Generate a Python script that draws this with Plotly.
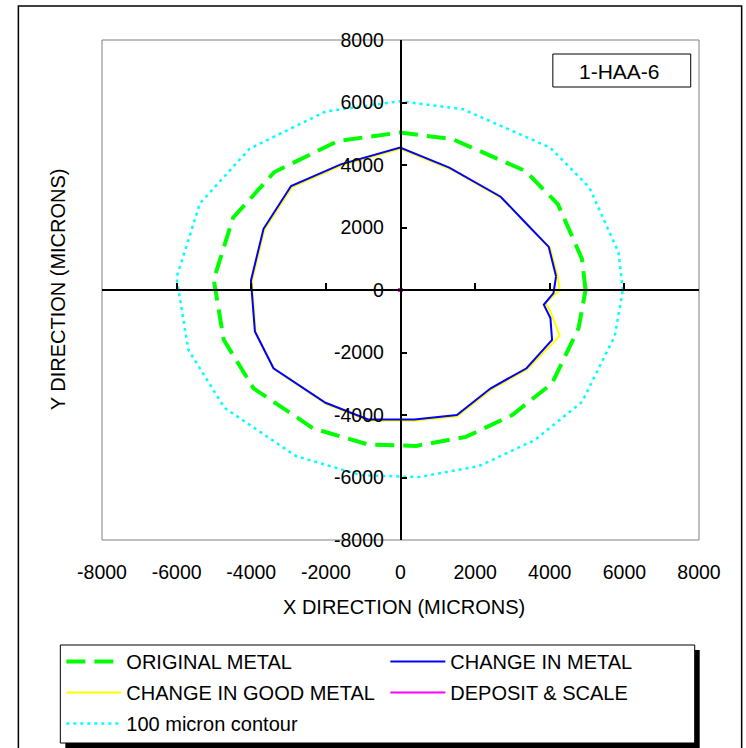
import plotly.graph_objects as go

# ---------------- data (microns) ----------------
tick_vals = [-8000, -6000, -4000, -2000, 0, 2000, 4000, 6000, 8000]
tick_labels = ["-8000", "-6000", "-4000", "-2000", "0", "2000", "4000", "6000", "8000"]

orig_x = [4960, 4862, 4222, 3351, 1396, -10, -1671, -3379, -4488, -5005, -4738, -3938,
          -2338, -871, 418, 1751, 2995, 4062, 4773, 4960]
orig_y = [0, 1000, 2738, 3807, 4825, 5040, 4771, 3775, 2311, 330, -1595, -3146,
          -4430, -4944, -4988, -4700, -4003, -2986, -1221, 0]

metal_x = [4169, 3973, 3395, 2684, 1307, -10, -1600, -2933, -3671, -4008, -3902, -3404,
           -2009, -871, 373, 1511, 2418, 3378, 4062, 4018, 3840, 4100, 4169]
metal_y = [437, 1380, 2096, 2985, 3916, 4560, 4020, 3326, 1958, 299, -1329, -2504,
           -3608, -4141, -4141, -4003, -3146, -2504, -1595, -899, -472, -100, 437]

good_x = [4222, 4010, 3420, 2700, 1320, 0, -1590, -2910, -3650, -3985, -3880, -3390,
          -2000, -860, 380, 1520, 2430, 3395, 4267, 4018, 3884, 4267, 4222]
good_y = [385, 1340, 2060, 2950, 3880, 4520, 3985, 3290, 1930, 270, -1350, -2530,
          -3640, -4175, -4180, -4040, -3180, -2536, -1467, -686, -417, 0, 385]

dep_x = [0, 0, 0, 0]
dep_y = [0, 0, 0, 0]

contour_x = [5960, 5842, 5061, 4011, 1674, -12, -2002, -4046, -5377, -6003, -5686, -4719,
             -2805, -1045, 502, 2100, 3594, 4868, 5742, 5960]
contour_y = [0, 1202, 3282, 4557, 5786, 6040, 5715, 4520, 2769, 396, -1914, -3770,
             -5314, -5929, -5985, -5637, -4804, -3578, -1469, 0]

# ---------------- geometry helpers (pixels -> paper) ----------------
W, H = 746, 748
PL, PR, PT, PB = 101.7, 699.3, 40.0, 540.0


def px(x):
    return (x - PL) / (PR - PL)


def py(y):
    return (PB - y) / (PB - PT)


FONT = "Liberation Sans, Arial, sans-serif"
FS_TICK = 19.5
FS = 20

fig = go.Figure()
fig.add_trace(go.Scatter(x=contour_x, y=contour_y, mode="lines", name="100 micron contour",
                         line=dict(color="#00FFFF", width=2.5, dash="3px,4px"),
                         legend="legend3", hoverinfo="skip"))
fig.add_trace(go.Scatter(x=orig_x, y=orig_y, mode="lines", name="ORIGINAL METAL",
                         line=dict(color="#00FF00", width=4, dash="19px,9px"),
                         legend="legend", legendrank=1, hoverinfo="skip"))
fig.add_trace(go.Scatter(x=good_x, y=good_y, mode="lines", name="CHANGE IN GOOD METAL",
                         line=dict(color="#FFFF00", width=2), legend="legend2", legendrank=1,
                         hoverinfo="skip"))
fig.add_trace(go.Scatter(x=metal_x, y=metal_y, mode="lines", name="CHANGE IN METAL",
                         line=dict(color="#0000FF", width=2), legend="legend", legendrank=2,
                         hoverinfo="skip"))
fig.add_trace(go.Scatter(x=dep_x, y=dep_y, mode="lines", name="DEPOSIT & SCALE",
                         line=dict(color="#FF00FF", width=2), legend="legend2", legendrank=2,
                         hoverinfo="skip"))
fig.add_trace(go.Scatter(x=dep_x, y=dep_y, mode="markers", showlegend=False,
                         marker=dict(size=4, symbol="square", color="#FF00FF"),
                         hoverinfo="skip"))
# carrier trace for the bottom label axis
fig.add_trace(go.Scatter(x=[tick_vals[0], tick_vals[-1]], y=[0, 0], xaxis="x2", mode="markers",
                         marker=dict(opacity=0), showlegend=False, hoverinfo="skip"))

shapes = [
    dict(type="rect", xref="paper", yref="paper", x0=px(18), x1=px(742), y0=py(760), y1=py(6),
         line=dict(color="black", width=1.5), layer="below"),
    dict(type="rect", xref="paper", yref="paper", x0=0, x1=1, y0=0, y1=1,
         line=dict(color="#808080", width=1), layer="below"),
    dict(type="rect", xref="paper", yref="paper", x0=px(553), x1=px(691), y0=py(87), y1=py(54),
         line=dict(color="black", width=1), fillcolor="white", layer="above"),
    dict(type="rect", xref="paper", yref="paper", x0=px(65), x1=px(700), y0=py(748), y1=py(650),
         line=dict(width=0), fillcolor="black", layer="below"),
    dict(type="rect", xref="paper", yref="paper", x0=px(60), x1=px(695), y0=py(743), y1=py(645),
         line=dict(color="black", width=1), fillcolor="white", layer="below"),
]

annotations = [
    dict(text="Y DIRECTION (MICRONS)", xref="paper", yref="paper", x=px(58), y=py(289),
         textangle=-90, showarrow=False, xanchor="center", yanchor="middle",
         font=dict(size=FS, family=FONT, color="black")),
    dict(text="X DIRECTION (MICRONS)", xref="paper", yref="paper", x=px(404), y=py(607),
         showarrow=False, xanchor="center", yanchor="middle",
         font=dict(size=FS, family=FONT, color="black")),
    dict(text="1-HAA-6", xref="paper", yref="paper", x=px(620), y=py(71),
         showarrow=False, xanchor="center", yanchor="middle",
         font=dict(size=21, family=FONT, color="black")),
]


def leg(top):
    return dict(orientation="h", x=px(61), xanchor="left", y=py(top), yanchor="top",
                entrywidth=254, entrywidthmode="pixels", itemwidth=55,
                bgcolor="rgba(0,0,0,0)", borderwidth=0,
                font=dict(size=FS, family=FONT, color="black"), traceorder="normal")


fig.update_layout(
    width=W, height=H,
    margin=dict(l=PL, r=W - PR, t=PT, b=H - PB, autoexpand=False),
    paper_bgcolor="white", plot_bgcolor="rgba(0,0,0,0)",
    font=dict(family=FONT, size=FS, color="black"),
    xaxis=dict(range=[-8000, 8000], anchor="free", position=0.5, showline=True,
               linecolor="black", linewidth=1.5, ticks="inside", ticklen=6, tickwidth=1.5,
               tickcolor="black", tickvals=tick_vals, showticklabels=False, showgrid=False,
               zeroline=False, fixedrange=True),
    xaxis2=dict(range=[-8000, 8000], overlaying="x", anchor="y", side="bottom",
                showline=False, ticks="", tickvals=tick_vals, ticktext=tick_labels,
                showgrid=False, zeroline=False, ticklabelstandoff=18, fixedrange=True,
                tickfont=dict(size=FS_TICK, family=FONT, color="black")),
    yaxis=dict(range=[-8000, 8000], anchor="free", position=0.5, showline=True,
               linecolor="black", linewidth=1.5, ticks="inside", ticklen=6, tickwidth=1.5,
               tickcolor="black", tickvals=tick_vals, ticktext=tick_labels,
               showticklabels=True, ticklabelstandoff=12, showgrid=False, zeroline=False,
               fixedrange=True, tickfont=dict(size=FS_TICK, family=FONT, color="black")),
    legend=leg(642),
    legend2=leg(673),
    legend3=leg(704),
    showlegend=True,
    shapes=shapes,
    annotations=annotations,
)

fig.write_html("out.html")
